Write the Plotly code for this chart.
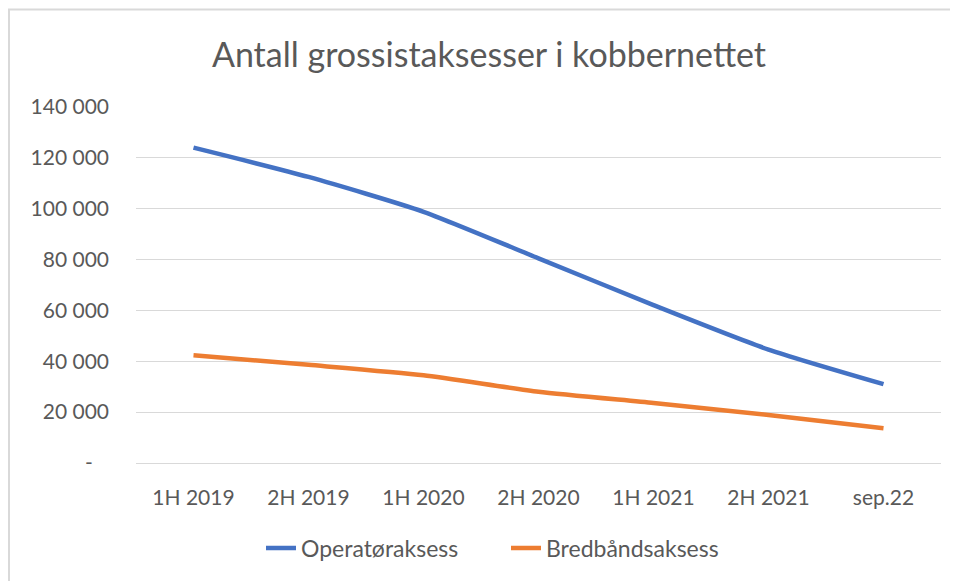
import plotly.graph_objects as go

categories = ["1H 2019", "2H 2019", "1H 2020", "2H 2020", "1H 2021", "2H 2021", "sep.22"]
operatoraksess = [124000, 112500, 98800, 80500, 62100, 44600, 31000]
bredbandsaksess = [42400, 38600, 34500, 28000, 23600, 18900, 13700]
y_tickvals = [0, 20000, 40000, 60000, 80000, 100000, 120000, 140000]
y_ticktext = ["-\u00a0\u00a0\u00a0", "20 000", "40 000", "60 000", "80 000", "100 000", "120 000", "140 000"]

OFF = 8  # page body margin
W, H = 958 - OFF, 581 - OFF
L, R, T, B = 136 - OFF, 941 - OFF, 107 - OFF, 463 - OFF
FONT = "Lato, 'Open Sans', sans-serif"
TXT = "#595959"

def px(x):
    return (x - OFF - L) / (R - L)

def py(y):
    return (B - (y - OFF)) / (B - T)

fig = go.Figure()
fig.add_trace(go.Scatter(x=categories, y=operatoraksess, name="Operatøraksess", mode="lines",
                         line=dict(color="#4472C4", width=4.5, shape="spline", smoothing=0.6)))
fig.add_trace(go.Scatter(x=categories, y=bredbandsaksess, name="Bredbåndsaksess", mode="lines",
                         line=dict(color="#ED7D31", width=4.5, shape="spline", smoothing=0.6)))

shapes = [
    dict(type="line", xref="paper", yref="paper", x0=px(8), x1=px(958), y0=py(9.5), y1=py(9.5),
         line=dict(color="#D9D9D9", width=2)),
    dict(type="line", xref="paper", yref="paper", x0=px(9), x1=px(9), y0=py(9), y1=py(581),
         line=dict(color="#D9D9D9", width=2)),
]

fig.update_layout(
    width=W, height=H,
    margin=dict(l=L, r=W - R, t=T, b=H - B, autoexpand=False),
    paper_bgcolor="white", plot_bgcolor="white",
    font=dict(family=FONT, color=TXT, size=21),
    title=dict(text="Antall grossistaksesser i kobbernettet", x=(489 - OFF) / W, xanchor="center",
               y=1 - (55 - OFF) / H, yanchor="middle", yref="container",
               font=dict(family=FONT, size=34, color=TXT)),
    xaxis=dict(type="category", range=[-0.5, len(categories) - 0.5],
               showgrid=False, showline=False, zeroline=False, tickangle=0,
               tickfont=dict(size=21, color=TXT), ticks="", ticklabelstandoff=20),
    yaxis=dict(range=[0, 140000], tickvals=y_tickvals, ticktext=y_ticktext,
               showgrid=True, gridcolor="#D9D9D9", gridwidth=1.3,
               zeroline=True, zerolinecolor="#D9D9D9", zerolinewidth=1.3,
               showline=False, ticks="", ticklabelstandoff=26,
               tickfont=dict(size=21, color=TXT)),
    legend=dict(orientation="h", x=px(506), xanchor="center",
                y=py(548), yanchor="middle", font=dict(size=23, color=TXT),
                entrywidth=200, entrywidthmode="pixels",
                bgcolor="rgba(0,0,0,0)"),
    shapes=shapes,
    showlegend=True,
)

fig.write_html("out.html")
